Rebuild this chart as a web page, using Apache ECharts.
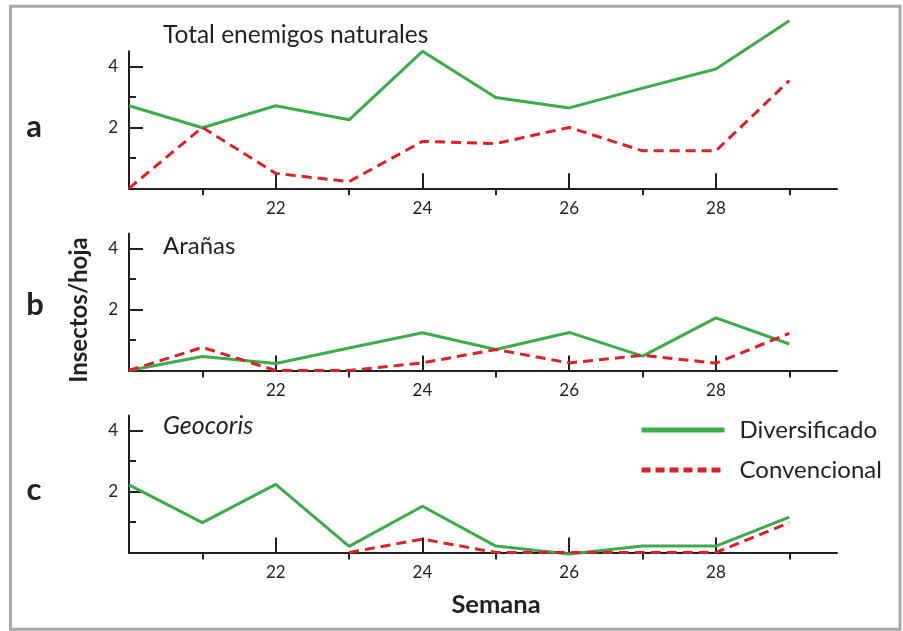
<!DOCTYPE html>
<html>
<head>
<meta charset="utf-8">
<script src="https://cdn.jsdelivr.net/npm/echarts@6/dist/echarts.min.js"></script>
<style>
html,body{margin:0;padding:0;background:#fff;}
#chart{width:903px;height:631px;}
</style>
</head>
<body>
<div id="chart"></div>
<script>
// ---- data ----
var weeks = [20, 21, 22, 23, 24, 25, 26, 27, 28, 29];
var totalDiversificado = [2.71, 1.99, 2.71, 2.25, 4.5, 2.98, 2.64, 3.29, 3.92, 5.5];
var totalConvencional  = [0, 2.0, 0.49, 0.22, 1.54, 1.47, 2.0, 1.23, 1.23, 3.54];
var aranasDiversificado = [0, 0.46, 0.23, 0.74, 1.24, 0.69, 1.25, 0.47, 1.73, 0.87];
var aranasConvencional  = [0, 0.76, 0, 0, 0.25, 0.69, 0.25, 0.5, 0.24, 1.22];
var geocorisDiversificado = [2.22, 0.98, 2.24, 0.2, 1.52, 0.21, -0.05, 0.21, 0.21, 1.16];
var geocorisConvencional  = [null, null, null, 0, 0.44, 0, 0, 0, 0, 0.98];
var xMajorTicks = [22, 24, 26, 28];
var xMinorTicks = [21, 23, 25, 27, 29];
var yMajorTicks = [2, 4];
var yMinorTicks = [1, 3];
var panelTitles = ['Total enemigos naturales', 'Arañas', 'Geocoris'];
var panelLetters = ['a', 'b', 'c'];

var FONT = 'Lato, "Open Sans", sans-serif';
var INK = '#231f20';
var GREEN = '#3cab49';
var RED = '#da2128';

function pairs(vals) {
  return weeks.map(function (w, i) { return [w, vals[i] === null ? '-' : vals[i]]; });
}

var grids = [
  { left: 129, right: 66, top: 51.3, height: 137 },
  { left: 129, right: 66, top: 233.5, height: 137 },
  { left: 129, right: 66, top: 415.5, height: 137 }
];

var xAxes = [], yAxes = [];
for (var g = 0; g < 3; g++) {
  xAxes.push({
    gridIndex: g, type: 'value', min: 20, max: 29.65, interval: 1,
    axisLine: { show: true, lineStyle: { color: INK, width: 2 } },
    axisTick: { show: true, inside: true, length: 15, customValues: xMajorTicks, lineStyle: { color: INK, width: 2 } },
    axisLabel: { show: true, customValues: xMajorTicks, fontSize: 17, color: INK, fontFamily: FONT, margin: 12 },
    splitLine: { show: false }
  });
  xAxes.push({
    gridIndex: g, type: 'value', min: 20, max: 29.65, interval: 1,
    axisLine: { show: false },
    axisTick: { show: true, inside: true, length: 7, customValues: xMinorTicks, lineStyle: { color: INK, width: 2 } },
    axisLabel: { show: false },
    splitLine: { show: false }
  });
  yAxes.push({
    gridIndex: g, type: 'value', min: 0, max: 4.5, interval: 1, position: 'left',
    axisLine: { show: true, lineStyle: { color: INK, width: 2 } },
    axisTick: { show: true, inside: true, length: 14, customValues: yMajorTicks, lineStyle: { color: INK, width: 2 } },
    axisLabel: { show: true, customValues: yMajorTicks, fontSize: 17, color: INK, fontFamily: FONT, margin: 11 },
    splitLine: { show: false }
  });
  yAxes.push({
    gridIndex: g, type: 'value', min: 0, max: 4.5, interval: 1, position: 'left',
    axisLine: { show: false },
    axisTick: { show: true, inside: true, length: 7, customValues: yMinorTicks, lineStyle: { color: INK, width: 2 } },
    axisLabel: { show: false },
    splitLine: { show: false }
  });
}

var panelData = [
  [totalDiversificado, totalConvencional],
  [aranasDiversificado, aranasConvencional],
  [geocorisDiversificado, geocorisConvencional]
];
var series = [];
panelData.forEach(function (pd, g) {
  series.push({
    name: 'Diversificado', type: 'line', xAxisIndex: g * 2, yAxisIndex: g * 2,
    data: pairs(pd[0]), symbol: 'none', clip: false, connectNulls: false,
    lineStyle: { color: GREEN, width: 3 }, itemStyle: { color: GREEN }, z: 3
  });
  series.push({
    name: 'Convencional', type: 'line', xAxisIndex: g * 2, yAxisIndex: g * 2,
    data: pairs(pd[1]), symbol: 'none', clip: false, connectNulls: false,
    lineStyle: { color: RED, width: 3, type: [10, 6] }, itemStyle: { color: RED }, z: 4
  });
});

var graphics = [
  { type: 'rect', shape: { x: 10.5, y: 6.3, width: 889.5, height: 623 }, style: { fill: 'none', stroke: '#a8a8a8', lineWidth: 3 }, silent: true },
  { type: 'text', x: 163, y: 35, style: { text: panelTitles[0], font: '24.5px ' + FONT, fill: INK, textVerticalAlign: 'middle' } },
  { type: 'text', x: 163, y: 246, style: { text: panelTitles[1], font: '24px ' + FONT, fill: INK, textVerticalAlign: 'middle' } },
  { type: 'text', x: 163, y: 426, style: { text: panelTitles[2], font: 'italic 25px ' + FONT, fill: INK, textVerticalAlign: 'middle' } },
  { type: 'text', x: 34, y: 127, style: { text: panelLetters[0], font: 'bold 31px ' + FONT, fill: INK, textAlign: 'center', textVerticalAlign: 'middle' } },
  { type: 'text', x: 35, y: 305, style: { text: panelLetters[1], font: 'bold 31px ' + FONT, fill: INK, textAlign: 'center', textVerticalAlign: 'middle' } },
  { type: 'text', x: 34, y: 490, style: { text: panelLetters[2], font: 'bold 31px ' + FONT, fill: INK, textAlign: 'center', textVerticalAlign: 'middle' } },
  { type: 'text', x: 79, y: 310, rotation: Math.PI / 2, style: { text: 'Insectos/hoja', font: 'bold 24px ' + FONT, fill: INK, textAlign: 'center', textVerticalAlign: 'middle' } },
  { type: 'text', x: 496, y: 605, style: { text: 'Semana', font: 'bold 25.5px ' + FONT, fill: INK, textAlign: 'center', textVerticalAlign: 'middle' } }
];

var chart = echarts.init(document.getElementById('chart'), null, { renderer: 'canvas' });
chart.setOption({
  animation: false,
  backgroundColor: '#ffffff',
  grid: grids,
  xAxis: xAxes,
  yAxis: yAxes,
  series: series,
  legend: {
    left: 639, top: 418, orient: 'vertical', padding: 0,
    itemWidth: 83, itemHeight: 14, itemGap: 16,
    selectedMode: false,
    itemStyle: { opacity: 0 },
    lineStyle: { width: 5 },
    textStyle: { fontSize: 24, fontFamily: FONT, color: INK, padding: [0, 0, 0, 10], lineHeight: 24 },
    data: [
      { name: 'Diversificado' },
      { name: 'Convencional', lineStyle: { type: [9, 5], width: 5 } }
    ]
  },
  graphic: graphics
});
</script>
</body>
</html>
